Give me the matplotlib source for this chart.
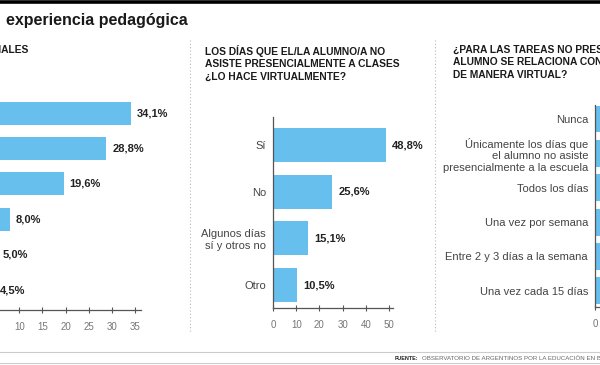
import matplotlib
matplotlib.use("Agg")
import matplotlib.pyplot as plt
import matplotlib.font_manager as fm
from matplotlib.lines import Line2D

# datos
valores_1 = [34.1, 28.8, 19.6, 8.0, 5.0, 4.5]

categorias_2 = ["Sí", "No", "Algunos días\nsí y otros no", "Otro"]
valores_2 = [48.8, 25.6, 15.1, 10.5]

categorias_3 = ["Nunca",
                "Únicamente los días que\nel alumno no asiste\npresencialmente a la escuela",
                "Todos los días", "Una vez por semana",
                "Entre 2 y 3 días a la semana", "Una vez cada 15 días"]
valores_3 = [30.0, 25.0, 20.0, 12.0, 8.0, 5.0]

ticks_1 = [5, 10, 15, 20, 25, 30, 35]
ticks_2 = [0, 10, 20, 30, 40, 50]
ticks_3 = [0, 10, 20, 30, 40, 50]

W, H = 600, 365
AZUL = "#66bfec"
plt.rcParams['font.family'] = ['Liberation Sans', 'DejaVu Sans']

# fuente angosta si hay alguna
nombres = {f.name for f in fm.fontManager.ttflist}
if "Liberation Sans Narrow" in nombres:
    ANGOSTA = ["Liberation Sans Narrow", "DejaVu Sans"]
else:
    ANGOSTA = ["Liberation Sans", "DejaVu Sans"]

fig = plt.figure(figsize=(W / 100, H / 100), dpi=100)


def caja(izq, arriba, der, abajo):
    return fig.add_axes([izq / W, 1 - abajo / H, (der - izq) / W, (abajo - arriba) / H])


def fx(x):
    return x / W


def fy(y):
    return 1 - y / H


def ajustar(t, ancho):
    # achica/agranda el texto hasta el ancho (px) del original
    r = fig.canvas.get_renderer()
    w = t.get_window_extent(r).width
    t.set_fontsize(t.get_fontsize() * ancho / w)


def estilo(ax, ticks, izquierda=True):
    for s in ["top", "right"]:
        ax.spines[s].set_visible(False)
    ax.spines["left"].set_visible(izquierda)
    ax.spines["left"].set_color("#555555")
    ax.spines["bottom"].set_color("#555555")
    ax.spines["left"].set_linewidth(0.9)
    ax.spines["bottom"].set_linewidth(0.9)
    ax.set_xticks(ticks)
    ax.tick_params(axis="x", direction="inout", length=5, width=0.8, color="#555555",
                   labelsize=7, labelcolor="#777777", pad=6)
    ax.tick_params(axis="y", length=0, labelsize=8, labelcolor="#444444", pad=5)


def etiquetas(ax, vals):
    for i, v in enumerate(vals):
        ax.annotate(f"{v:.1f}%".replace(".", ","), (v, i), xytext=(6, 0),
                    textcoords="offset pixels", va="center", ha="left",
                    fontsize=8, fontweight="bold", color="#222222",
                    annotation_clip=False)


# panel 1
ax1 = caja(-27, 95, 141, 310)
ax1.barh(range(len(valores_1)), valores_1, height=0.65, color=AZUL)
ax1.set_xlim(0, 36.3)
ax1.set_ylim(5.565, -0.51)
estilo(ax1, ticks_1, izquierda=False)
ax1.set_yticks([])
etiquetas(ax1, valores_1)

# panel 2
ax2 = caja(273, 117, 393, 308)
ax2.barh(range(len(valores_2)), valores_2, height=0.73, color=AZUL)
ax2.set_xlim(0, 51.7)
ax2.set_ylim(3.49, -0.6)
estilo(ax2, ticks_2)
ax2.set_yticks(range(len(categorias_2)))
ax2.set_yticklabels(categorias_2, ha="right", linespacing=1.15)
etiquetas(ax2, valores_2)

# panel 3
ax3 = caja(595, 105, 800, 307)
ax3.barh(range(len(valores_3)), valores_3, height=0.78, color=AZUL)
ax3.set_xlim(0, 51.7)
ax3.set_ylim(5.47, -0.41)
estilo(ax3, ticks_3)
ax3.set_yticks(range(len(categorias_3)))
ax3.set_yticklabels(categorias_3, ha="right", linespacing=1.2)

# titulos
tit = fig.text(fx(6), fy(21), "experiencia pedagógica", fontsize=12, fontweight="bold",
               color="#1a1a1a", va="center", ha="left", family=ANGOSTA)
ajustar(tit, 180)
estilo_tit = dict(fontsize=7.8, fontweight="bold", color="#1a1a1a", va="top",
                  linespacing=1.3, family=ANGOSTA)
t2 = fig.text(fx(205), fy(45), "LOS DÍAS QUE EL/LA ALUMNO/A NO\nASISTE PRESENCIALMENTE A CLASES\n¿LO HACE VIRTUALMENTE?",
              ha="left", **estilo_tit)
ajustar(t2, 196)
estilo_tit["fontsize"] = t2.get_fontsize()
fig.text(fx(28), fy(45), "MODALIDADES PRESENCIALES", ha="right", **estilo_tit)
fig.text(fx(453), fy(45), "¿PARA LAS TAREAS NO PRESENCIALES, EL\nALUMNO SE RELACIONA CON LA ESCUELA\nDE MANERA VIRTUAL?",
         ha="left", **estilo_tit)

# lineas decorativas
fig.add_artist(Line2D([0, 1], [fy(1.7), fy(1.7)], color="black", lw=2.6))
for x in [190, 435]:
    fig.add_artist(Line2D([fx(x), fx(x)], [fy(40), fy(333)], color="#bbbbbb", lw=0.8, ls=(0, (1, 2))))
for y in [352, 363]:
    fig.add_artist(Line2D([0, 1], [fy(y), fy(y)], color="#cccccc", lw=0.8))

# fuente
f1 = fig.text(fx(395), fy(358), "FUENTE:", fontsize=4.6, fontweight="bold", color="#222222",
              va="center", family=ANGOSTA)
ajustar(f1, 23)
f2 = fig.text(fx(422), fy(358), "OBSERVATORIO DE ARGENTINOS POR LA EDUCACIÓN EN",
              fontsize=5, color="#666666", va="center", family=ANGOSTA)
ajustar(f2, 176)
f2.set_text("OBSERVATORIO DE ARGENTINOS POR LA EDUCACIÓN EN BASE A ENCUESTA")

fig.savefig("out.png", dpi=100)
